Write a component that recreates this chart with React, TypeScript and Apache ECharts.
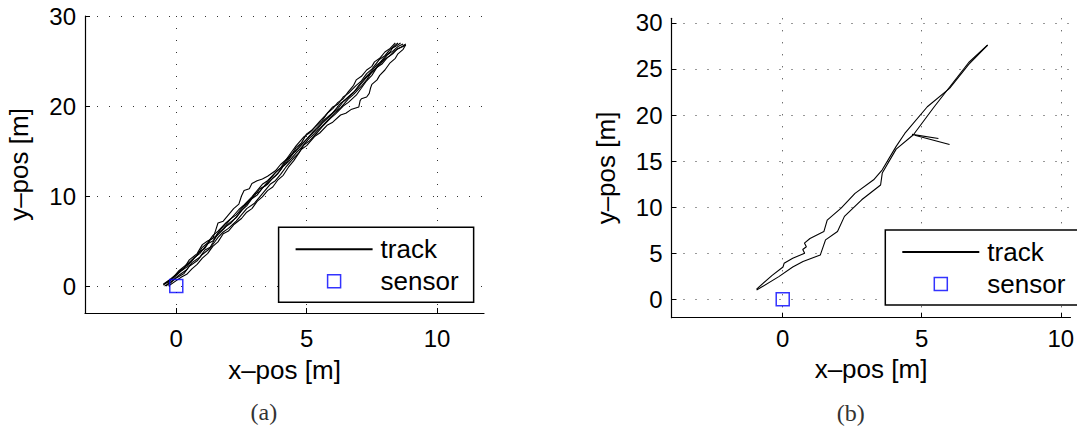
import React, { useEffect, useRef } from "react";
import * as echarts from "echarts";

// ---------- data ----------
const xTicks = [0, 5, 10];
const yTicksA = [0, 10, 20, 30];
const yTicksB = [0, 5, 10, 15, 20, 25, 30];
const sensorPos = [[0, 0]];

// panel (a): several walks along the same path
const trackA1 = [[-0.45,0.2],[-0.2,0.8],[0.1,1.6],[0.3,2.0],[0.5,2.9],[0.8,3.6],[1.0,4.6],[1.2,5.0],[1.4,5.3],[1.5,6.1],[1.6,7.0],[1.8,7.2],[2.0,7.9],[2.2,8.6],[2.4,9.1],[2.5,10.0],[2.6,10.6],[2.8,10.8],[2.9,11.4],[3.1,11.7],[3.3,11.9],[3.5,12.2],[3.8,12.8],[4.0,13.5],[4.2,14.0],[4.4,14.8],[4.6,15.6],[4.9,16.6],[5.1,17.0],[5.3,17.6],[5.6,18.4],[5.8,19.2],[6.0,19.7],[6.2,20.4],[6.4,20.8],[6.6,21.6],[6.8,22.3],[6.9,22.9],[7.1,23.3],[7.3,24.0],[7.5,24.4],[7.6,24.9],[7.8,25.3],[8.0,26.0],[8.2,26.4],[8.4,27.0]];
const trackA2 = [[-0.3,0.0],[0.0,0.6],[0.2,1.0],[0.4,1.3],[0.6,1.9],[0.8,2.4],[1.0,3.1],[1.2,3.6],[1.4,4.4],[1.6,4.9],[1.8,5.8],[2.0,6.1],[2.2,6.8],[2.5,7.5],[2.7,8.2],[2.9,8.6],[3.1,9.4],[3.3,9.9],[3.5,10.6],[3.7,11.0],[3.9,11.8],[4.1,12.3],[4.3,13.2],[4.5,13.9],[4.8,15.2],[5.0,15.6],[5.3,16.6],[5.5,17.0],[5.8,17.9],[6.0,18.2],[6.3,19.0],[6.5,19.2],[6.7,19.6],[7.0,19.9],[7.05,20.6],[7.1,20.8],[7.3,21.0],[7.4,21.4],[7.45,22.0],[7.5,22.4],[7.7,22.9],[7.8,23.4],[8.0,24.0],[8.2,24.8],[8.4,25.3],[8.5,25.8],[8.7,26.3],[8.8,26.8]];
const trackA3 = [[-0.5,0.1],[-0.3,0.5],[-0.1,1.0],[0.1,1.7],[0.4,2.4],[0.6,2.8],[0.9,3.8],[1.1,4.2],[1.3,5.1],[1.5,5.5],[1.7,6.3],[1.9,6.8],[2.1,7.5],[2.3,7.9],[2.6,8.9],[2.8,9.4],[3.0,10.2],[3.2,10.5],[3.4,11.2],[3.6,11.9],[3.8,12.6],[4.0,13.1],[4.2,14.0],[4.4,14.5],[4.6,15.4],[4.8,15.9],[5.0,16.9],[5.2,17.3],[5.5,18.3],[5.7,18.9],[6.0,19.9],[6.2,20.2],[6.4,21.0],[6.6,21.4],[6.9,22.3],[7.1,22.8],[7.3,23.6],[7.5,24.1],[7.8,25.2],[8.0,25.6],[8.2,26.3],[8.4,26.6],[8.6,27.0]];
const trackA4 = [[-0.4,0.0],[-0.1,0.7],[0.1,1.2],[0.4,1.8],[0.6,2.6],[0.9,3.2],[1.1,4.0],[1.3,4.3],[1.4,4.8],[1.6,5.9],[1.8,6.3],[2.0,6.9],[2.3,7.6],[2.5,8.4],[2.7,8.9],[2.9,9.7],[3.1,10.1],[3.3,10.9],[3.5,11.3],[3.7,12.0],[3.9,12.5],[4.1,13.3],[4.3,13.8],[4.6,14.8],[4.8,15.4],[5.1,16.4],[5.3,16.9],[5.6,17.8],[5.8,18.4],[6.1,19.3],[6.3,19.8],[6.6,20.8],[6.8,21.3],[7.1,22.2],[7.3,22.9],[7.5,23.8],[7.7,24.3],[8.0,25.2],[8.2,25.6],[8.4,26.2],[8.6,26.5],[8.8,26.9]];
const trackA5 = [[-0.35,0.3],[-0.1,0.9],[0.2,1.7],[0.4,2.1],[0.7,3.2],[0.9,3.6],[1.2,4.7],[1.4,5.0],[1.5,5.4],[1.7,6.0],[1.9,6.6],[2.1,7.0],[2.4,8.0],[2.6,8.7],[2.8,9.5],[3.0,10.0],[3.2,10.8],[3.4,11.1],[3.6,11.7],[3.8,12.2],[4.0,12.9],[4.2,13.8],[4.4,14.6],[4.6,15.0],[4.9,16.0],[5.1,16.6],[5.4,17.4],[5.6,18.1],[5.9,18.9],[6.1,19.6],[6.3,20.3],[6.5,20.7],[6.8,21.5],[7.0,22.3],[7.2,23.0],[7.4,23.6],[7.7,24.6],[7.9,25.0],[8.1,25.7],[8.3,26.1],[8.5,26.6],[8.7,26.9]];
const trackA6 = [[-0.45,0.0],[-0.2,0.4],[0.0,0.9],[0.3,1.4],[0.5,2.2],[0.8,2.8],[1.0,3.5],[1.3,4.2],[1.5,5.0],[1.6,5.4],[1.8,6.0],[2.0,6.4],[2.3,7.2],[2.5,7.9],[2.7,8.6],[3.0,9.2],[3.2,9.9],[3.4,10.6],[3.6,11.3],[3.8,11.7],[4.0,12.4],[4.2,13.2],[4.5,14.2],[4.7,14.8],[4.9,15.7],[5.1,16.1],[5.4,17.0],[5.6,17.7],[5.9,18.6],[6.1,19.1],[6.4,20.0],[6.6,20.4],[6.9,21.2],[7.1,22.0],[7.3,22.8],[7.5,23.4],[7.7,24.3],[7.9,24.7],[8.1,25.4],[8.3,25.8],[8.5,26.4],[8.7,26.6],[8.8,26.8]];
const trackA7 = [[-0.5,0.2],[-0.2,0.8],[0.1,1.5],[0.3,2.0],[0.6,2.9],[0.8,3.4],[1.0,4.3],[1.2,4.8],[1.4,5.6],[1.6,6.1],[1.9,7.0],[2.1,7.5],[2.4,8.5],[2.6,9.0],[2.9,9.9],[3.1,10.6],[3.3,11.3],[3.5,11.7],[3.7,12.3],[3.9,12.9],[4.2,13.6],[4.4,14.4],[4.7,15.5],[4.9,16.0],[5.2,17.0],[5.4,17.6],[5.7,18.5],[5.9,19.0],[6.2,19.7],[6.4,20.5],[6.7,21.3],[6.9,21.8],[7.1,22.5],[7.3,23.2],[7.6,24.0],[7.8,24.8],[8.0,25.5],[8.2,26.0],[8.3,26.5],[8.5,27.0]];
const tracksA = [trackA1, trackA2, trackA3, trackA4, trackA5, trackA6, trackA7];

// panel (b)
const trackB1 = [[-0.94,1.1],[-0.38,2.6],[0.01,3.5],[0.05,3.9],[0.36,4.45],[0.79,5.0],[0.72,5.4],[0.85,5.7],[0.78,6.1],[0.98,6.6],[1.48,7.35],[1.6,8.6],[2.1,9.9],[2.6,11.5],[3.27,12.97],[3.58,14.05],[4.08,16.6],[4.39,18.0],[5.2,20.9],[6.0,22.9],[6.69,25.5],[7.37,27.6]];
const trackB2 = [[-0.94,1.0],[-0.14,2.46],[0.36,3.5],[0.73,4.1],[1.35,4.8],[1.54,6.45],[1.97,7.35],[2.22,9.0],[2.84,10.8],[3.52,12.4],[3.58,13.7],[4.08,16.3],[4.7,17.86],[5.45,20.9],[6.69,25.7],[7.37,27.6]];
const trackB3 = [[4.65,17.9],[5.6,17.45]];
const trackB4 = [[4.75,17.8],[6.0,16.8]];
const tracksB = [trackB1, trackB2, trackB3, trackB4];

const FONT = "Liberation Sans";

function xAxisCfg(gridIndex: number, min: number, max: number, nameGap: number, labelMargin: number) {
  return {
    type: "value", gridIndex, min, max,
    name: "x–pos [m]", nameLocation: "middle", nameGap,
    nameTextStyle: { fontSize: 26, color: "#000", fontFamily: FONT },
    axisLine: { show: true, onZero: false, lineStyle: { color: "#000", width: 1.2 } },
    axisTick: { show: true, inside: true, length: 5, customValues: xTicks, lineStyle: { color: "#000", width: 1 } },
    axisLabel: { customValues: xTicks, fontSize: 24, color: "#000", margin: labelMargin, fontFamily: FONT },
    splitLine: { show: true, lineStyle: { color: "#333", width: 1, type: [1, 11] } },
  };
}
function yAxisCfg(gridIndex: number, min: number, max: number, ticks: number[], nameGap: number) {
  return {
    type: "value", gridIndex, min, max,
    name: "y–pos [m]", nameLocation: "middle", nameGap,
    nameTextStyle: { fontSize: 26, color: "#000", fontFamily: FONT },
    axisLine: { show: true, onZero: false, lineStyle: { color: "#000", width: 1.2 } },
    axisTick: { show: true, inside: true, length: 5, customValues: ticks, lineStyle: { color: "#000", width: 1 } },
    axisLabel: { customValues: ticks, fontSize: 24, color: "#000", margin: 9, fontFamily: FONT },
    splitLine: { show: true, lineStyle: { color: "#333", width: 1, type: [1, 11] } },
  };
}

function legendCfg(left: number, top: number, padRight: number) {
  return {
    left, top, orient: "vertical",
    data: [
      { name: "track", itemStyle: { opacity: 0 } },
      { name: "sensor", icon: "path://M0,0L10,0L10,10L0,10Z", itemStyle: { color: "transparent", borderColor: "#0000ff", borderWidth: 1.5 } },
    ],
    symbolKeepAspect: true,
    itemWidth: 77, itemHeight: 13, itemGap: 6,
    padding: [9, padRight, 8, 16],
    borderColor: "#000", borderWidth: 1.5, borderRadius: 0,
    backgroundColor: "#fff",
    selectedMode: false,
    textStyle: { fontSize: 26, lineHeight: 26, color: "#000", fontFamily: FONT, padding: [0, 0, 0, 3] },
  };
}

export default function App() {
  const ref = useRef<HTMLDivElement>(null);
  useEffect(() => {
    if (!ref.current) return;
    const chart = echarts.init(ref.current, null, { renderer: "svg", width: 1160, height: 431 });
    const lineSeries = (data: number[][], idx: number) => ({
      type: "line", name: "track", xAxisIndex: idx, yAxisIndex: idx, data,
      symbol: "none", showSymbol: false, silent: true,
      lineStyle: { color: "#000", width: 1.1 }, itemStyle: { color: "#000" }, z: 2,
    });
    const sensorSeries = (idx: number) => ({
      type: "scatter", name: "sensor", xAxisIndex: idx, yAxisIndex: idx, data: sensorPos,
      symbol: "rect", symbolSize: 13, silent: true,
      itemStyle: { color: "transparent", borderColor: "#0000ff", borderWidth: 1.5 }, z: 3,
    });
    chart.setOption({
      animation: false,
      backgroundColor: "#fff",
      grid: [
        { left: 85, top: 16, width: 399, height: 297, outerBoundsMode: "none" },
        { left: 671.5, top: 18.3, width: 399, height: 299.4, outerBoundsMode: "none" },
      ],
      xAxis: [xAxisCfg(0, -3.5, 11.8, 44, 13), xAxisCfg(1, -4, 10.35, 33, 9)],
      yAxis: [yAxisCfg(0, -3, 30, yTicksA, 53), yAxisCfg(1, -2, 30.5, yTicksB, 53)],
      legend: [legendCfg(278.6, 227.3, 15), legendCfg(885.3, 230, 40)],
      series: [
        ...tracksA.map((t) => lineSeries(t, 0)),
        sensorSeries(0),
        ...tracksB.map((t) => lineSeries(t, 1)),
        sensorSeries(1),
      ],
      graphic: [
        { type: "text", x: 263.8, y: 411.7, style: { text: "(a)", fontSize: 24, fontFamily: "Liberation Serif", fill: "#333", align: "center", verticalAlign: "middle" } },
        { type: "text", x: 850.8, y: 413.3, style: { text: "(b)", fontSize: 24, fontFamily: "Liberation Serif", fill: "#333", align: "center", verticalAlign: "middle" } },
      ],
    });
    return () => chart.dispose();
  }, []);
  return (
    <div style={{ position: "fixed", left: 0, top: 0, width: 1077, height: 431, overflow: "hidden", background: "#fff" }}>
      <div ref={ref} style={{ width: 1160, height: 431 }} />
    </div>
  );
}
